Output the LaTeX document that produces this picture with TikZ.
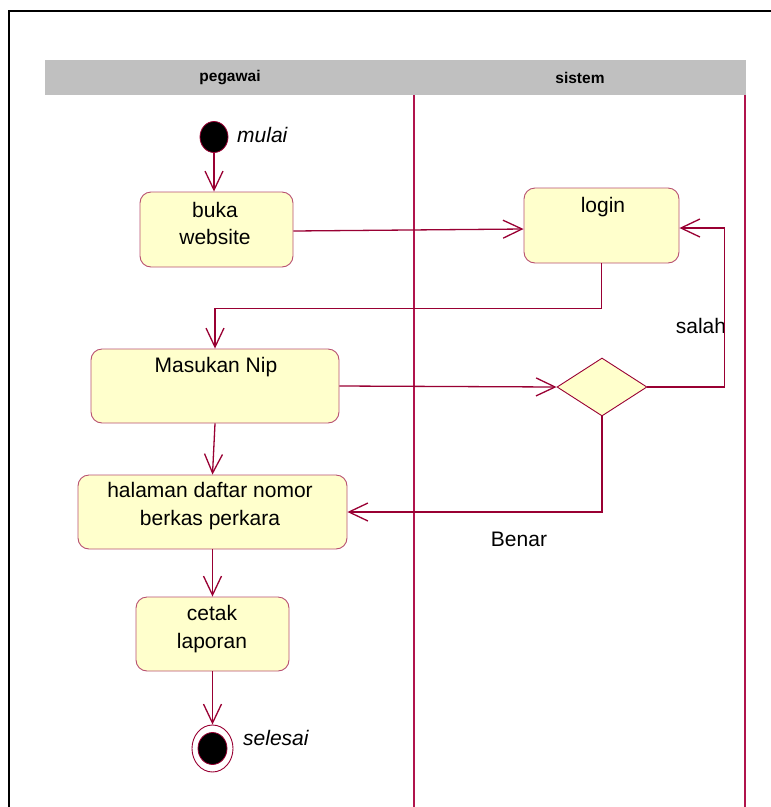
\documentclass[tikz,border=0pt]{standalone}
\usepackage{fontspec}
\setmainfont{Liberation Sans}
\usetikzlibrary{arrows.meta,shapes.geometric,calc}

\definecolor{headgray}{HTML}{C0C0C0}
\definecolor{lanec}{HTML}{B0144C}
\definecolor{flowc}{HTML}{990033}
\definecolor{boxedge}{HTML}{B85070}
\definecolor{boxfill}{HTML}{FFFFCC}

\tikzset{
  actbox/.style={draw=boxedge, fill=boxfill, line width=0.9pt, rounded corners=11pt, inner sep=0},
  decbox/.style={diamond, draw=flowc, fill=boxfill, line width=0.9pt, inner sep=0},
  txt/.style={font=\fontsize{21}{27.5}\selectfont, align=center, inner sep=0},
  itxt/.style={font=\fontsize{21}{27.5}\selectfont\itshape, inner sep=0},
  hdr/.style={font=\fontsize{15.5}{17}\selectfont\bfseries, inner sep=0},
  lane/.style={draw=lanec, line width=1.3pt},
  flow/.style={draw=flowc, line width=1.3pt, -{Straight Barb[length=19pt,width=18pt]}},
}

\begin{document}
\begin{tikzpicture}[x=1pt,y=-1pt]
\useasboundingbox (0,0) rectangle (771,807);

% swimlane header and lane boundaries
\fill[headgray] (45,60) rectangle (745.5,95);
\node[hdr] (lanea) at (230,78) {pegawai};
\node[hdr] (laneb) at (580,78) {sistem};
\draw[lane] (414,95) -- (414,807);
\draw[lane] (745,95) -- (745,807);

% outer frame
\draw[black, line width=2.6pt] (9,809) -- (9,11) -- (773,11);

% start state
\node[ellipse, fill=black, draw=flowc, line width=0.8pt, minimum width=28pt, minimum height=31pt, inner sep=0] (start) at (214,137) {};
\node[itxt, anchor=west] (startlbl) at (237,135) {mulai};

% activities
\node[actbox, minimum width=153pt, minimum height=75pt] (buka) at (216.5,229.5) {};
\node[txt] (bukatxt) at (215,223.5) {buka\\website};

\node[actbox, minimum width=155pt, minimum height=75pt] (login) at (601.5,225.5) {};
\node[txt] (logintxt) at (603,207) {login};

\node[actbox, minimum width=248pt, minimum height=74pt] (nip) at (215,386) {};
\node[txt] (niptxt) at (216,367) {Masukan Nip};

\node[decbox, minimum width=90pt, minimum height=58pt] (cek) at (602,387) {};

\node[actbox, minimum width=269pt, minimum height=74pt] (daftar) at (212.5,512) {};
\node[txt] (daftartxt) at (210,506) {halaman daftar nomor\\berkas perkara};

\node[actbox, minimum width=153pt, minimum height=74pt] (cetak) at (212.5,634) {};
\node[txt] (cetaktxt) at (212,629) {cetak\\laporan};

% final state
\node[ellipse, draw=flowc, line width=0.9pt, minimum width=41pt, minimum height=47pt, inner sep=0] (finish) at (212.5,748.5) {};
\node[ellipse, fill=black, draw=flowc, line width=0.8pt, minimum width=29pt, minimum height=32pt, inner sep=0] (finishdot) at (finish.center) {};
\node[itxt, anchor=west] (finishlbl) at (243,738) {selesai};

% guard labels
\node[txt] (salahlbl) at (701,326) {salah};
\node[txt] (benarlbl) at (519,539) {Benar};

% transitions
\draw[flow] (start) -- (buka.north -| start);
\draw[flow] ([yshift=-1.5pt]buka.east) -- ([yshift=-3.5pt]login.west);
\draw[flow] (login.south) -- ++(0,45) -| (nip.north);
\draw[flow] (nip.east) -- (cek.west);
\draw[flow] (cek.east) -- ++(77,0) |- ([yshift=-2.5pt]login.east);
\draw[flow] (cek.south) |- (daftar.east);
\draw[flow] (nip.south) -- (daftar.north);
\draw[flow] (daftar.south) -- (cetak.north);
\draw[flow] (cetak.south) -- (finish.north);
\end{tikzpicture}
\end{document}
